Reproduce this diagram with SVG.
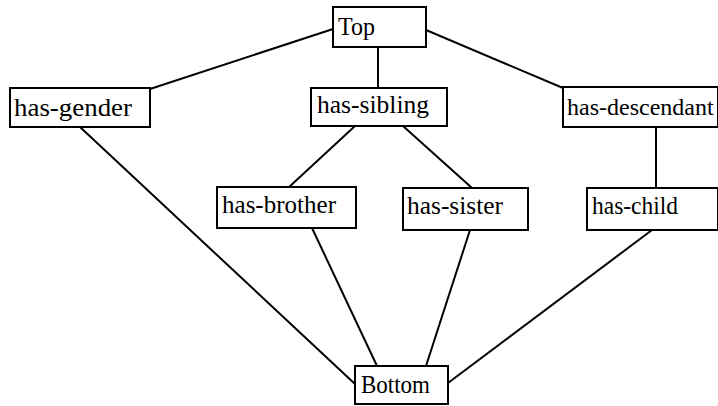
<svg xmlns="http://www.w3.org/2000/svg" width="718" height="406" viewBox="0 0 718 406">
<style>
.box{fill:#fff;stroke:#000;stroke-width:2}
.lbl{font-family:"Liberation Serif","Times New Roman",serif;font-size:25px;fill:#000}
.edge{stroke:#000;stroke-width:2;fill:none}
</style>
<rect width="718" height="406" fill="#fff"/>
<g id="connectors">
<line class="edge" x1="333" y1="29" x2="150" y2="89"/>
<line class="edge" x1="378" y1="47" x2="378" y2="88"/>
<line class="edge" x1="426" y1="30" x2="563" y2="88"/>
<line class="edge" x1="355" y1="126" x2="288" y2="188"/>
<line class="edge" x1="403" y1="126" x2="472" y2="188"/>
<line class="edge" x1="656" y1="127" x2="656" y2="188"/>
<line class="edge" x1="80" y1="127" x2="355" y2="384"/>
<line class="edge" x1="312" y1="228" x2="377" y2="366"/>
<line class="edge" x1="470" y1="230" x2="426" y2="366"/>
<line class="edge" x1="652" y1="230" x2="448" y2="383"/>
</g>
<g id="top"><rect class="box" x="333" y="7" width="93" height="40"/><text class="lbl" x="338" y="35" textLength="37" lengthAdjust="spacingAndGlyphs">Top</text></g>
<g id="has-gender"><rect class="box" x="10" y="88" width="140" height="39"/><text class="lbl" x="14" y="116" textLength="118" lengthAdjust="spacingAndGlyphs">has-gender</text></g>
<g id="has-sibling"><rect class="box" x="311" y="88" width="136" height="38"/><text class="lbl" x="317" y="113" textLength="112" lengthAdjust="spacingAndGlyphs">has-sibling</text></g>
<g id="has-descendant"><rect class="box" x="563" y="87" width="155" height="40"/><text class="lbl" x="567" y="115" style="font-size:24px">has-descendant</text></g>
<g id="has-brother"><rect class="box" x="217" y="187" width="139" height="41"/><text class="lbl" x="222" y="213" textLength="114" lengthAdjust="spacingAndGlyphs">has-brother</text></g>
<g id="has-sister"><rect class="box" x="403" y="188" width="125" height="42"/><text class="lbl" x="407" y="214" textLength="96" lengthAdjust="spacingAndGlyphs">has-sister</text></g>
<g id="has-child"><rect class="box" x="587" y="188" width="131" height="42"/><text class="lbl" x="592" y="214" textLength="86" lengthAdjust="spacingAndGlyphs">has-child</text></g>
<g id="bottom"><rect class="box" x="355" y="366" width="93" height="38"/><text class="lbl" x="361" y="393" textLength="69" lengthAdjust="spacingAndGlyphs">Bottom</text></g>
</svg>
